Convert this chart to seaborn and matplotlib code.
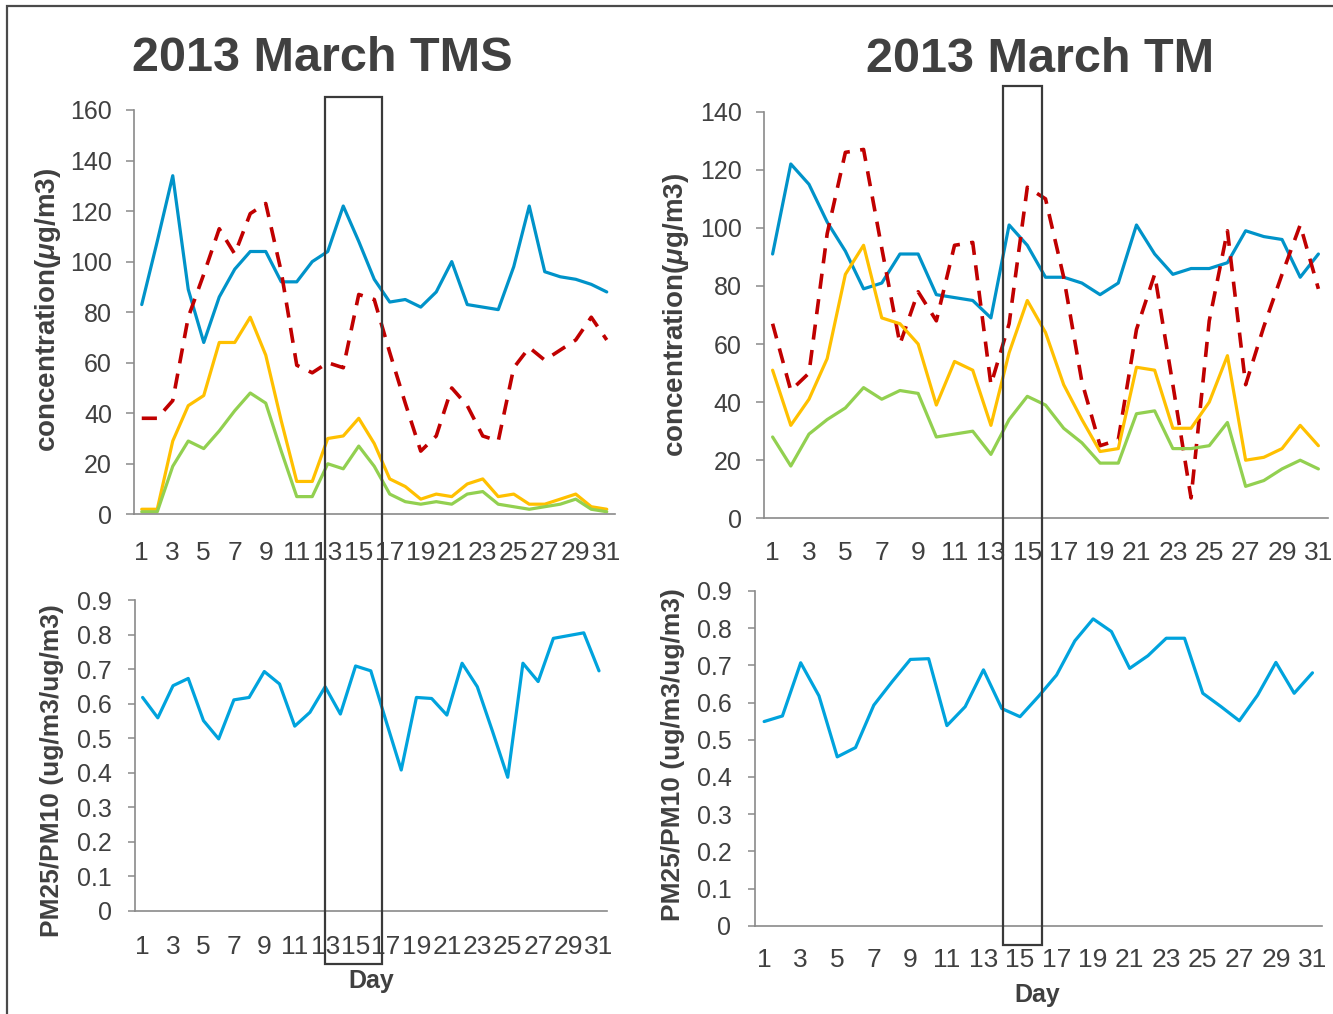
import matplotlib
matplotlib.use("Agg")
import matplotlib.pyplot as plt
from matplotlib.patches import Rectangle
import pandas as pd
import seaborn as sns

# ---------------- data ----------------
days = list(range(1, 32))
day_ticks = list(range(1, 32, 2))

# 2013 March, TMS site (ug/m3)
tms_pm10 = [83, 108, 134, 89, 68, 86, 97, 104, 104, 92, 92, 100, 104, 122, 108, 93,
            84, 85, 82, 88, 100, 83, 82, 81, 98, 122, 96, 94, 93, 91, 88]
tms_dashed = [38, 38, 45, 78, 95, 113, 103, 119, 123, 96, 59, 56, 60, 58, 87, 85,
              64, 44, 25, 31, 50, 43, 31, 29, 58, 66, 61, 65, 69, 78, 69]
tms_pm25 = [2, 2, 29, 43, 47, 68, 68, 78, 63, 37, 13, 13, 30, 31, 38, 28,
            14, 11, 6, 8, 7, 12, 14, 7, 8, 4, 4, 6, 8, 3, 2]
tms_pm1 = [1, 1, 19, 29, 26, 33, 41, 48, 44, 25, 7, 7, 20, 18, 27, 19,
           8, 5, 4, 5, 4, 8, 9, 4, 3, 2, 3, 4, 6, 2, 1]
tms_ratio = [0.618, 0.559, 0.652, 0.673, 0.551, 0.498, 0.611, 0.618, 0.693, 0.657,
             0.535, 0.575, 0.649, 0.570, 0.709, 0.695, 0.550, 0.408, 0.618, 0.615,
             0.567, 0.717, 0.649, 0.520, 0.387, 0.717, 0.664, 0.789, 0.797, 0.805, 0.695]

# 2013 March, TM site (ug/m3)
tm_pm10 = [91, 122, 115, 102, 92, 79, 81, 91, 91, 77, 76, 75, 69, 101, 94, 83,
           83, 81, 77, 81, 101, 91, 84, 86, 86, 88, 99, 97, 96, 83, 91]
tm_dashed = [67, 44, 50, 98, 126, 127, 93, 60, 78, 68, 94, 95, 46, 67, 114, 110,
             83, 47, 25, 27, 65, 84, 46, 7, 68, 99, 46, 66, 84, 101, 79]
tm_pm25 = [51, 32, 41, 55, 84, 94, 69, 67, 60, 39, 54, 51, 32, 57, 75, 64,
           46, 34, 23, 24, 52, 51, 31, 31, 40, 56, 20, 21, 24, 32, 25]
tm_pm1 = [28, 18, 29, 34, 38, 45, 41, 44, 43, 28, 29, 30, 22, 34, 42, 39,
          31, 26, 19, 19, 36, 37, 24, 24, 25, 33, 11, 13, 17, 20, 17]
tm_ratio = [0.549, 0.564, 0.707, 0.618, 0.454, 0.479, 0.593, 0.656, 0.716, 0.718,
            0.538, 0.589, 0.688, 0.584, 0.562, 0.616, 0.674, 0.766, 0.825, 0.791,
            0.692, 0.726, 0.773, 0.773, 0.625, 0.589, 0.551, 0.620, 0.708, 0.625, 0.680]

conc_ticks_tms = [0, 20, 40, 60, 80, 100, 120, 140, 160]
conc_ticks_tm = [0, 20, 40, 60, 80, 100, 120, 140]
ratio_ticks = [0, 0.1, 0.2, 0.3, 0.4, 0.5, 0.6, 0.7, 0.8, 0.9]
ratio_tick_labels = ["0", "0.1", "0.2", "0.3", "0.4", "0.5", "0.6", "0.7", "0.8", "0.9"]

titles = ["2013 March TMS", "2013 March TM"]
conc_label = "concentration($\\mu$g/m3)"
ratio_label = "PM25/PM10 (ug/m3/ug/m3)"
day_label = "Day"

# ---------------- style ----------------
sns.set_theme(style="white")
plt.rcParams["font.family"] = ["Liberation Sans", "DejaVu Sans"]
plt.rcParams["mathtext.fontset"] = "custom"
plt.rcParams["mathtext.it"] = "Liberation Sans:italic:bold"
plt.rcParams["mathtext.rm"] = "Liberation Sans:bold"
plt.rcParams["mathtext.bf"] = "Liberation Sans:bold"

TEXT = "#404040"
AXIS = "#8a8a8a"
BLUE = "#0093C9"
BLUE_RATIO = "#00A3DD"
RED = "#C00000"
YELLOW = "#FFC000"
GREEN = "#92D050"

W, H = 1333, 1014
fig = plt.figure(figsize=(W / 100, H / 100), dpi=100)


def px_axes(left, top, right, bottom):
    return fig.add_axes([left / W, 1 - bottom / H, (right - left) / W, (bottom - top) / H])


def style_axes(ax, yticks, ylabels, ymax, xpad, ypad, ticklen):
    ax.set_xlim(0.5, 31.5)
    ax.set_ylim(0, ymax)
    ax.set_xticks(day_ticks)
    ax.set_xticklabels([str(d) for d in day_ticks])
    ax.set_yticks(yticks)
    ax.set_yticklabels(ylabels)
    for side in ("top", "right"):
        ax.spines[side].set_visible(False)
    for side in ("left", "bottom"):
        ax.spines[side].set_color(AXIS)
        ax.spines[side].set_linewidth(1.2)
    ax.tick_params(axis="x", length=0, pad=xpad, labelsize=19, labelcolor=TEXT)
    ax.tick_params(axis="y", length=ticklen, width=1.1, color=AXIS, pad=ypad,
                   labelsize=18, labelcolor=TEXT, left=True)
    ax.grid(False)
    ax.set_facecolor("white")


def conc_panel(ax, pm10, dashed, pm25, pm1):
    sns.lineplot(x=days, y=pm10, ax=ax, color=BLUE, linewidth=2.3)
    sns.lineplot(x=days, y=dashed, ax=ax, color=RED, linewidth=2.6,
                 linestyle=(0, (4.2, 2.9)))
    sns.lineplot(x=days, y=pm25, ax=ax, color=YELLOW, linewidth=2.3)
    sns.lineplot(x=days, y=pm1, ax=ax, color=GREEN, linewidth=2.3)


# ---- top-left: TMS concentrations ----
ax_tl = px_axes(134, 110, 614.5, 514.3)
conc_panel(ax_tl, tms_pm10, tms_dashed, tms_pm25, tms_pm1)
style_axes(ax_tl, conc_ticks_tms, [str(t) for t in conc_ticks_tms], 160, 19, 10, 5.8)
ax_tl.set_xlabel("")
ax_tl.set_ylabel(conc_label, fontsize=20, fontweight="bold", color=TEXT, va="center")
ax_tl.yaxis.set_label_coords(-0.18, 0.505)

# ---- top-right: TM concentrations ----
ax_tr = px_axes(763.5, 111.7, 1327.5, 518.3)
conc_panel(ax_tr, tm_pm10, tm_dashed, tm_pm25, tm_pm1)
style_axes(ax_tr, conc_ticks_tm, [str(t) for t in conc_ticks_tm], 140, 16, 10, 5.8)
ax_tr.set_xlabel("")
ax_tr.set_ylabel(conc_label, fontsize=20, fontweight="bold", color=TEXT, va="center")
ax_tr.yaxis.set_label_coords(-0.155, 0.5)

# ---- bottom-left: TMS ratio ----
ax_bl = px_axes(135, 600, 606.6, 911)
sns.lineplot(x=days, y=tms_ratio, ax=ax_bl, color=BLUE_RATIO, linewidth=2.3)
style_axes(ax_bl, ratio_ticks, ratio_tick_labels, 0.9, 17, 11.5, 5)
ax_bl.set_ylabel(ratio_label, fontsize=19, fontweight="bold", color=TEXT, va="center")
ax_bl.yaxis.set_label_coords(-0.177, 0.45)
ax_bl.set_xlabel(day_label, fontsize=18, fontweight="bold", color=TEXT, va="baseline")
ax_bl.xaxis.set_label_coords(0.502, -0.2486)

# ---- bottom-right: TM ratio ----
ax_br = px_axes(755, 591, 1321.6, 925.7)
sns.lineplot(x=days, y=tm_ratio, ax=ax_br, color=BLUE_RATIO, linewidth=2.3)
style_axes(ax_br, ratio_ticks, ratio_tick_labels, 0.9, 16, 12, 5)
ax_br.set_ylabel(ratio_label, fontsize=19, fontweight="bold", color=TEXT, va="center")
ax_br.yaxis.set_label_coords(-0.144, 0.51)
ax_br.set_xlabel(day_label, fontsize=18, fontweight="bold", color=TEXT, va="baseline")
ax_br.xaxis.set_label_coords(0.498, -0.228)

# ---- titles ----
fig.text(322.5 / W, 1 - 70.7 / H, titles[0], ha="center", va="baseline",
         fontsize=35, fontweight="bold", color=TEXT)
fig.text(1040.5 / W, 1 - 71.7 / H, titles[1], ha="center", va="baseline",
         fontsize=35, fontweight="bold", color=TEXT)

# ---- highlight boxes spanning both panels of each site ----
for (x0, y0, x1, y1) in [(325, 97, 381.5, 964), (1003.3, 86, 1041.5, 945)]:
    fig.add_artist(Rectangle((x0 / W, 1 - y1 / H), (x1 - x0) / W, (y1 - y0) / H,
                             transform=fig.transFigure, fill=False,
                             edgecolor="#3a3a3a", linewidth=1.6, zorder=10))

# ---- outer frame ----
fig.add_artist(Rectangle((7.5 / W, -0.02), 1.1, 1 - 5.5 / H + 0.02,
                         transform=fig.transFigure, fill=False,
                         edgecolor="#4a4a4a", linewidth=1.6, zorder=10))

fig.savefig("out.png", dpi=100, facecolor="white")
